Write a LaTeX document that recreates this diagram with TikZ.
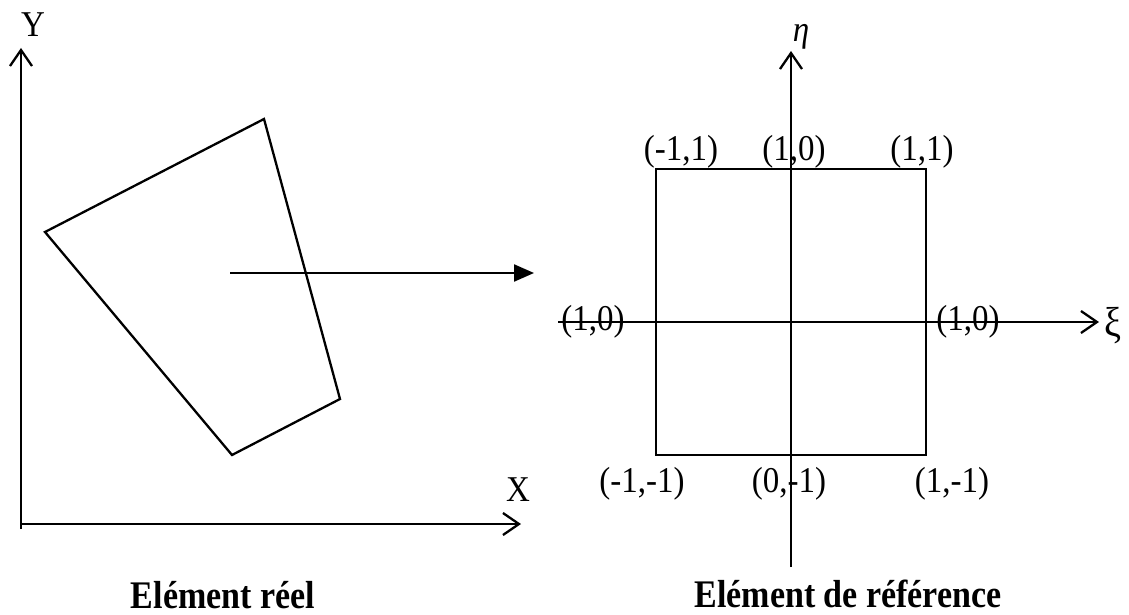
\documentclass[tikz,border=0pt]{standalone}
\usepackage{graphicx}
\usepackage{fontspec}
\setmainfont{Liberation Serif}
\usetikzlibrary{arrows.meta}
\newcommand\vstretch[2]{\scalebox{1}[#1]{#2}}
\begin{document}
\begin{tikzpicture}[x=1pt,y=-1pt,
  axis/.style={line width=2.3pt, -{Straight Barb[length=16pt,width=22pt,line width=2.3pt]}},
  edge/.style={line width=2.3pt, line join=miter},
  maparrow/.style={line width=2.3pt, -{Triangle[length=20pt,width=17pt]}},
  lab/.style={inner sep=0pt, font=\fontsize{33}{40}\selectfont},
  title/.style={inner sep=0pt, anchor=base, font=\fontsize{34}{40}\selectfont\bfseries}]
\useasboundingbox (0,0) rectangle (1129,615);
% ---------- left: real element ----------
\coordinate (O)  at (21,524);
\coordinate (Yb) at (21,529);
\coordinate (Yt) at (21,48);
\coordinate (Xt) at (521,524);
\draw[axis] (Yb) -- (Yt);
\draw[axis] (O) -- (Xt);
\node[lab] (Ylab) at (33,25) {\vstretch{1.1}{Y}};
\node[lab] (Xlab) at (518,490) {\vstretch{1.1}{X}};
\coordinate (q1) at (45,232);
\coordinate (q2) at (264,119);
\coordinate (q3) at (340,399);
\coordinate (q4) at (232,455);
\draw[edge] (q1) -- (q2) -- (q3) -- (q4) -- cycle;
\coordinate (ms) at (230,273);
\coordinate (me) at (534,273);
\draw[maparrow] (ms) -- (me);
\node[title] (t1) at (223,608) {\vstretch{1.15}{Elément réel}};
% ---------- right: reference element ----------
\coordinate (eb) at (791,567);
\coordinate (et) at (791,51);
\coordinate (xs) at (558,322);
\coordinate (xe) at (1099,322);
\draw[edge] (656,169) rectangle (926,455);
\draw[axis] (eb) -- (et);
\draw[axis] (xs) -- (xe);
\node[lab] (eta) at (801,37) {\vstretch{1.1}{\itshape η}};
\node[lab, font=\fontsize{38}{44}\selectfont] (xi) at (1113,326) {\vstretch{1.1}{ξ}};
\node[lab] (n1) at (681,152) {\vstretch{1.1}{(-1,1)}};
\node[lab] (n2) at (794,152) {\vstretch{1.1}{(1,0)}};
\node[lab] (n3) at (922,152) {\vstretch{1.1}{(1,1)}};
\node[lab] (n4) at (593,322) {\vstretch{1.1}{(1,0)}};
\node[lab] (n5) at (968,322) {\vstretch{1.1}{(1,0)}};
\node[lab] (n6) at (642,484) {\vstretch{1.1}{(-1,-1)}};
\node[lab] (n7) at (789,484) {\vstretch{1.1}{(0,-1)}};
\node[lab] (n8) at (952,484) {\vstretch{1.1}{(1,-1)}};
\node[title] (t2) at (848,607) {\vstretch{1.15}{Elément de référence}};
\end{tikzpicture}
\end{document}
